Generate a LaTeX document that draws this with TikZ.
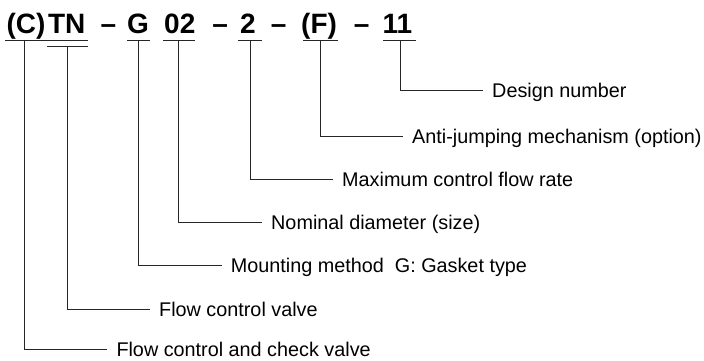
\documentclass[tikz,border=0pt]{standalone}
\usepackage{fontspec}
\setmainfont{Liberation Sans}
\begin{document}
\begin{tikzpicture}[x=1pt,y=-1pt,
  tok/.style={anchor=base west,inner sep=0pt,font=\fontsize{28}{32}\selectfont\bfseries},
  lab/.style={anchor=west,inner xsep=9pt,inner ysep=0pt,text height=14.2pt,text depth=0pt,font=\fontsize{19.8}{24}\selectfont},
  ln/.style={line width=0.9pt,draw=black!85}]
\useasboundingbox (0,0) rectangle (704,361);
% header tokens
\node[tok] (c) at (6.3,34) {(C)};
\node[tok] (tn) at (47.8,34) {TN};
\node[tok] (d1) at (100.5,34) {--};
\node[tok] (g) at (127,34) {G};
\node[tok] (dia) at (164,34) {02};
\node[tok] (d2) at (212.2,34) {--};
\node[tok] (fl) at (240,34) {2};
\node[tok] (d3) at (270.7,34) {--};
\node[tok] (f) at (301,34) {(F)};
\node[tok] (d4) at (353.7,34) {--};
\node[tok] (dn) at (382.5,34) {11};
% underlines
\coordinate (u1a) at (5,40.7); \coordinate (u1b) at (88,40.7);
\coordinate (u2a) at (47,46); \coordinate (u2b) at (88,46);
\coordinate (u3a) at (127,40.7); \coordinate (u3b) at (150,40.7);
\coordinate (u4a) at (163,40.7); \coordinate (u4b) at (195,40.7);
\coordinate (u5a) at (238,40.7); \coordinate (u5b) at (262,40.7);
\coordinate (u6a) at (303,40.7); \coordinate (u6b) at (338,40.7);
\coordinate (u7a) at (383,40.7); \coordinate (u7b) at (416,40.7);
\foreach \i in {1,...,7} {\draw[ln] (u\i a) -- (u\i b);}
% labels
\node[lab] (l7) at (483,90.7) {Design number};
\node[lab] (l6) at (403,136) {Anti-jumping mechanism (option)};
\node[lab] (l5) at (333,179.3) {Maximum control flow rate};
\node[lab] (l4) at (262,222.7) {Nominal diameter (size)};
\node[lab] (l3) at (221.7,265.7) {Mounting method\ \ G: Gasket type};
\node[lab] (l2) at (150,309.8) {Flow control valve};
\node[lab] (l1) at (107.3,349.6) {Flow control and check valve};
% connectors
\coordinate (v1) at (24.3,40.7);
\coordinate (v2) at (67.3,46);
\coordinate (v3) at (138.3,40.7);
\coordinate (v4) at (178.3,40.7);
\coordinate (v5) at (250,40.7);
\coordinate (v6) at (320.7,40.7);
\coordinate (v7) at (400,40.7);
\foreach \i in {1,...,7} {\draw[ln] (v\i) |- (l\i.west);}
\end{tikzpicture}
\end{document}
